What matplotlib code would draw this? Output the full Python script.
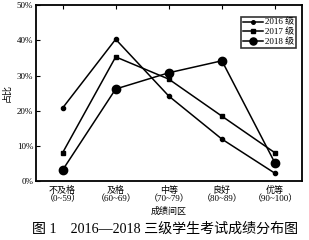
import matplotlib
matplotlib.use("Agg")
import matplotlib.pyplot as plt

plt.rcParams['font.family'] = ['Liberation Serif', 'Noto Sans CJK SC', 'DejaVu Sans']

# datos
categorias = ["不及格\n（0~59）", "及格\n（60~69）", "中等\n（70~79）", "良好\n（80~89）", "优等\n（90~100）"]
g2016 = [20.8, 40.3, 24.2, 12.0, 2.3]
g2017 = [8.1, 35.3, 29.0, 18.5, 8.1]
g2018 = [3.2, 26.2, 30.8, 34.2, 5.2]
yticks = [0, 10, 20, 30, 40, 50]
ylabels = ["0%", "10%", "20%", "30%", "40%", "50%"]

fig = plt.figure(figsize=(3.09, 2.4), dpi=100)
ax = fig.add_axes([0.1165, 0.244, 0.8595, 0.735])

x = range(len(categorias))
ax.plot(x, g2016, "-o", color="black", lw=1.1, ms=3, label="2016 级")
ax.plot(x, g2017, "-s", color="black", lw=1.1, ms=3, label="2017 级")
ax.plot(x, g2018, "-o", color="black", lw=1.1, ms=6, label="2018 级")

ax.set_xlim(-0.5, 4.5)
ax.set_ylim(0, 50)
ax.set_yticks(yticks)
ax.set_yticklabels(ylabels, fontsize=6.5)
ax.set_xticks(list(x))
ax.set_xticklabels(categorias, fontsize=6.5, linespacing=1.05)
ax.tick_params(axis="x", bottom=False, top=True, direction="in", length=3, pad=3)
ax.tick_params(axis="y", direction="in", length=3, pad=2)
for s in ax.spines.values():
    s.set_linewidth(1.3)

ax.set_ylabel("占比", fontsize=6.5, labelpad=4)
ax.set_xlabel("成绩间区", fontsize=6.5, labelpad=2)

leg = ax.legend(loc="upper right", fontsize=6.5, frameon=True, fancybox=False,
                handlelength=2.2, handletextpad=0.2, borderpad=0.2, labelspacing=0.15,
                markerscale=0.85, bbox_to_anchor=(0.995, 0.96))
leg.get_frame().set_edgecolor("black")
leg.get_frame().set_linewidth(1.2)

fig.text(0.534, 0.03, "图 1　2016—2018 三级学生考试成绩分布图", ha="center", fontsize=10.1)

plt.savefig("out.png", dpi=100)
